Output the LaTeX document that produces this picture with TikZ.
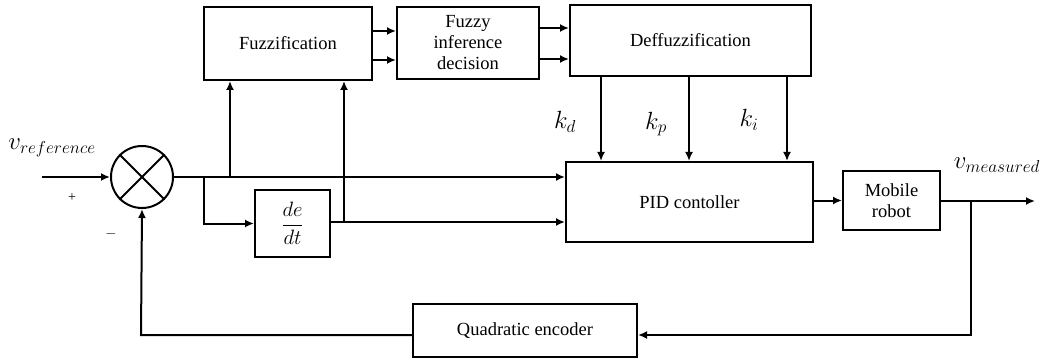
\documentclass[tikz,border=0pt]{standalone}
\usepackage{fontspec}
\setmainfont{Liberation Serif}
\usetikzlibrary{arrows.meta,calc}
\begin{document}
\begin{tikzpicture}[x=1pt,y=-1pt,
  blk/.style={draw,line width=2pt,rectangle,inner sep=0pt,align=center,font=\fontsize{18.5}{21}\selectfont},
  conn/.style={line width=2pt},
  arr/.style={conn,-{Latex[length=9pt,width=8pt]}},
  lbl/.style={inner sep=0pt,font=\fontsize{25}{28}\selectfont},
  vlbl/.style={inner sep=0pt,font=\fontsize{23}{26}\selectfont}]
\useasboundingbox (0,0) rectangle (1048,358);
% blocks
\node[blk,minimum width=168pt,minimum height=73pt] (fuz) at (288,43.5) {Fuzzification};
\node[blk,minimum width=142pt,minimum height=72pt] (fid) at (468,43) {Fuzzy\\inference\\decision};
\node[blk,minimum width=241pt,minimum height=71pt] (def) at (690.5,40.5) {Deffuzzification};
\node[blk,minimum width=247pt,minimum height=80pt] (pid) at (689.5,202) {PID contoller};
\node[blk,minimum width=97pt,minimum height=59pt] (mr) at (891.5,200.5) {Mobile\\robot};
\node[blk,minimum width=75pt,minimum height=67pt,font=\fontsize{21}{24}\selectfont] (ddt) at (292.5,223.5) {$\displaystyle\frac{de}{dt}$};
\node[blk,minimum width=224pt,minimum height=53pt] (enc) at (525,330.5) {Quadratic encoder};
\node[draw,circle,line width=2pt,minimum size=62pt,inner sep=0pt] (sum) at (142,177) {};
\draw[conn] (sum.north west) -- (sum.south east) (sum.north east) -- (sum.south west);
% coordinates
\coordinate (in) at (42,177);
\coordinate (b1) at (230,177);
\coordinate (b2) at (204,177);
\coordinate (b3) at (344,222);
\coordinate (out) at (1035,201);
\coordinate (b4) at (971,201);
\coordinate (fb) at (971,335);
\coordinate (fb2) at (141,335);
% connectors
\draw[arr] (in) -- (sum.west);
\draw[arr] (sum.east) -- (pid.west |- sum.east);
\draw[arr] (b1) -- (b1 |- fuz.south);
\draw[arr] (b2) |- (ddt.west);
\draw[arr] (ddt.east |- b3) -- (pid.west |- b3);
\draw[arr] (b3) -- (b3 |- fuz.south);
\draw[arr] (fuz.east |- 0,31) -- (fid.west |- 0,31);
\draw[arr] (fuz.east |- 0,60) -- (fid.west |- 0,60);
\draw[arr] (fid.east |- 0,28) -- (def.west |- 0,28);
\draw[arr] (fid.east |- 0,59) -- (def.west |- 0,59);
\draw[arr] (def.south -| 601,0) -- (pid.north -| 601,0);
\draw[arr] (def.south -| 689,0) -- (pid.north -| 689,0);
\draw[arr] (def.south -| 787,0) -- (pid.north -| 787,0);
\draw[arr] (pid.east |- mr.west) -- (mr.west);
\draw[arr] (mr.east |- out) -- (out);
\draw[arr] (b4) -- (fb) -- (enc.east |- fb);
\draw[arr] (enc.west |- fb) -- (fb2) -- (sum.south);
% labels
\node[lbl] (kd) at (565,122) {$k_d$};
\node[lbl] (kp) at (656,124) {$k_p$};
\node[lbl] (ki) at (749,120) {$k_i$};
\node[vlbl] (vr) at (52,148) {$v_{reference}$};
\node[vlbl] (vm) at (997,165) {$v_{measured}$};
\node[lbl,font=\fontsize{14}{16}\selectfont] (plus) at (72,198) {+};
\node[lbl,font=\fontsize{14}{16}\selectfont] (minus) at (111,234) {$-$};
\end{tikzpicture}
\end{document}
